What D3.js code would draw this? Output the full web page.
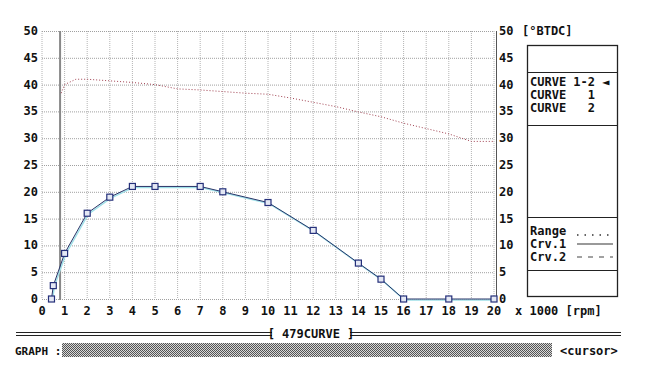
<!DOCTYPE html>
<html>
<head>
<meta charset="utf-8">
<script src="https://cdn.jsdelivr.net/npm/d3@7"></script>
<style>
  body { margin: 0; background: #fff; }
  text { font-family: "DejaVu Sans Mono", monospace; font-weight: bold; fill: #111; }
</style>
</head>
<body>
<svg id="chart" width="657" height="368"></svg>
<script>
// curve 1 (advance vs rpm x 1000)
let curveRpm = [0.42, 0.5, 1, 2, 3, 4, 5, 7, 8, 10, 12, 14, 15, 16, 18, 20]
let curveDeg = [0, 2.5, 8.5, 16, 19, 21, 21, 21, 20, 18, 12.8, 6.7, 3.7, 0, 0, 0]

// allowed range (red dotted)
let rangeRpm = [0.85, 1, 1.5, 2, 3, 4, 5, 6, 7, 8, 9, 10, 11, 12, 13, 14, 15, 16, 17, 18, 19, 20]
let rangeDeg = [38.4, 40, 41, 41, 40.7, 40.4, 40, 39.2, 39, 38.7, 38.4, 38.2, 37.5, 36.7, 35.9, 34.9, 34, 32.8, 31.8, 30.8, 29.4, 29.4]

let xTicks = d3.range(0, 21)
let yTicks = [0, 5, 10, 15, 20, 25, 30, 35, 40, 45, 50]
let cursorRpm = 0.8

let menuItems = ['CURVE 1-2 \u25C4', 'CURVE   1', 'CURVE   2']
let legendItems = ['Range', 'Crv.1', 'Crv.2']

let svg = d3.select('#chart')

let x = d3.scaleLinear().domain([0, 20]).range([42, 494])
let y = d3.scaleLinear().domain([0, 50]).range([299, 31])

// grid
let grid = svg.append('g')
grid.selectAll('.vg').data(xTicks).enter().append('line')
  .attr('x1', d => x(d)).attr('x2', d => x(d))
  .attr('y1', y(50)).attr('y2', y(0))
  .attr('stroke', '#b4b4b4').attr('stroke-dasharray', '1,1')
grid.selectAll('.hg').data(yTicks).enter().append('line')
  .attr('x1', x(0)).attr('x2', x(20))
  .attr('y1', d => y(d) + 0.5).attr('y2', d => y(d) + 0.5)
  .attr('stroke', '#a0a0a0').attr('stroke-dasharray', '1,1')

// right axis line
svg.append('line')
  .attr('x1', x(20) + 2.5).attr('x2', x(20) + 2.5)
  .attr('y1', y(50)).attr('y2', y(0) + 1)
  .attr('stroke', '#555').attr('stroke-width', 1)

// cursor line
svg.append('line')
  .attr('x1', x(cursorRpm)).attr('x2', x(cursorRpm))
  .attr('y1', y(50)).attr('y2', y(0) + 1)
  .attr('stroke', '#888').attr('stroke-width', 2)

// left / right tick labels
svg.selectAll('.yl').data(yTicks).enter().append('text')
  .attr('x', 38).attr('y', d => y(d) + 4)
  .attr('text-anchor', 'end').attr('font-size', 12)
  .text(d => d)
svg.selectAll('.yr').data(yTicks).enter().append('text')
  .attr('x', 499).attr('y', d => y(d) + 4)
  .attr('font-size', 12)
  .text(d => d)
svg.append('text').attr('x', 522).attr('y', y(50) + 4).attr('font-size', 12).text('[\u00B0BTDC]')

// x labels
svg.selectAll('.xl').data(xTicks).enter().append('text')
  .attr('x', d => x(d)).attr('y', 315)
  .attr('text-anchor', 'middle').attr('font-size', 12)
  .text(d => d)
svg.append('text').attr('x', 515).attr('y', 315).attr('font-size', 12).text('x 1000 [rpm]')

// range line
let rangeData = rangeRpm.map((r, i) => [r, rangeDeg[i]])
svg.append('path')
  .datum(rangeData)
  .attr('d', d3.line().x(d => x(d[0])).y(d => y(d[1])))
  .attr('fill', 'none').attr('stroke', '#a04050').attr('stroke-width', 1)
  .attr('stroke-dasharray', '1,2')

// curve 1
let curveData = curveRpm.map((r, i) => [r, curveDeg[i]])
svg.append('path')
  .datum(curveData)
  .attr('d', d3.line().x(d => x(d[0]) + 1).y(d => y(d[1]) + 1))
  .attr('fill', 'none').attr('stroke', '#9fe0e8').attr('stroke-width', 1.5)
svg.append('path')
  .datum(curveData)
  .attr('d', d3.line().x(d => x(d[0])).y(d => y(d[1])))
  .attr('fill', 'none').attr('stroke', '#2a3468').attr('stroke-width', 1)
svg.selectAll('.pt').data(curveData).enter().append('rect')
  .attr('x', d => x(d[0]) - 3).attr('y', d => y(d[1]) - 3)
  .attr('width', 6).attr('height', 6)
  .attr('fill', '#e4e8f4').attr('stroke', '#25307a').attr('stroke-width', 1.2)

// right panel
let panel = svg.append('g')
panel.append('rect').attr('x', 527.5).attr('y', 45.5).attr('width', 90).attr('height', 251)
  .attr('fill', 'none').attr('stroke', '#222').attr('stroke-width', 1.3)
;[72, 125, 217, 270].forEach(v => {
  panel.append('line').attr('x1', 527.5).attr('x2', 617.5).attr('y1', v + 0.5).attr('y2', v + 0.5)
    .attr('stroke', '#222').attr('stroke-width', 1.2)
})
panel.selectAll('.mi').data(menuItems).enter().append('text')
  .attr('x', 530).attr('y', (d, i) => 86 + i * 13)
  .attr('font-size', 12).attr('xml:space', 'preserve').style('white-space', 'pre')
  .text(d => d)
panel.selectAll('.li').data(legendItems).enter().append('text')
  .attr('x', 530).attr('y', (d, i) => 235 + i * 13)
  .attr('font-size', 12)
  .text(d => d)
let lx1 = 577, lx2 = 613
panel.append('line').attr('x1', lx1).attr('x2', lx2).attr('y1', 235).attr('y2', 235)
  .attr('stroke', '#333').attr('stroke-width', 1.5).attr('stroke-dasharray', '1.5,6')
panel.append('line').attr('x1', lx1).attr('x2', lx2).attr('y1', 244).attr('y2', 244)
  .attr('stroke', '#777').attr('stroke-width', 1.5)
panel.append('line').attr('x1', lx1).attr('x2', lx2).attr('y1', 257).attr('y2', 257)
  .attr('stroke', '#444').attr('stroke-width', 1.2).attr('stroke-dasharray', '5,6')

// bottom bar
let defs = svg.append('defs')
let pat = defs.append('pattern').attr('id', 'hatch').attr('width', 2).attr('height', 2)
  .attr('patternUnits', 'userSpaceOnUse')
pat.append('rect').attr('width', 2).attr('height', 2).attr('fill', '#d8d8d8')
pat.append('rect').attr('width', 1).attr('height', 1).attr('fill', '#555')
pat.append('rect').attr('x', 1).attr('y', 1).attr('width', 1).attr('height', 1).attr('fill', '#555')

;[[16, 272], [350, 621]].forEach(seg => {
  ;[332.5, 335.5].forEach(v => {
    svg.append('line').attr('x1', seg[0]).attr('x2', seg[1]).attr('y1', v).attr('y2', v)
      .attr('stroke', '#222').attr('stroke-width', 1)
  })
})
svg.append('text').attr('x', 311).attr('y', 338).attr('text-anchor', 'middle')
  .attr('font-size', 12).style('white-space', 'pre').text('[ 479CURVE ]')
svg.append('text').attr('x', 15).attr('y', 355).attr('font-size', 11).text('GRAPH :')
svg.append('rect').attr('x', 62).attr('y', 343).attr('width', 490).attr('height', 14)
  .attr('fill', 'url(#hatch)')
svg.append('text').attr('x', 560).attr('y', 355).attr('font-size', 12).text('<cursor>')
</script>
</body>
</html>
